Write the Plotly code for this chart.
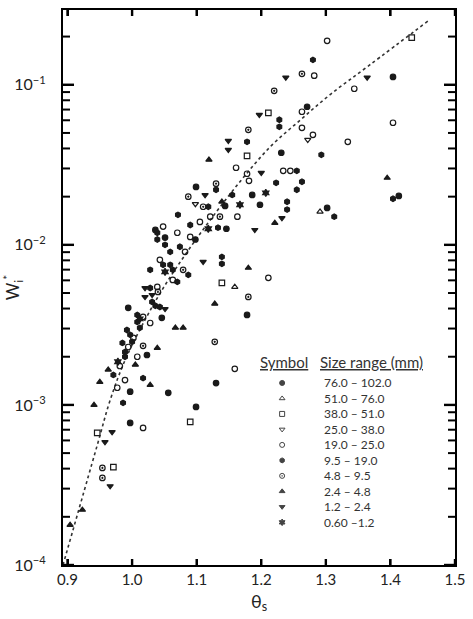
import math
import plotly.graph_objects as go

# ---- data ----
size_ranges = ["76.0 – 102.0", "51.0 – 76.0", "38.0 – 51.0", "25.0 – 38.0", "19.0 – 25.0",
               "9.5 – 19.0", "4.8 – 9.5", "2.4 – 4.8", "1.2 – 2.4", "0.60 –1.2"]
size_classes = ["A", "B", "C", "D", "E", "F", "G", "H", "I", "J"]
class_symbols = ["circle", "triangle-up-open", "square-open", "triangle-down-open", "circle-open",
                 "hexagon", "circle-open-dot", "triangle-up", "triangle-down", "hexagram"]

theta_s = [1.433, 1.302, 1.280, 1.282, 1.263, 1.238, 1.364, 1.404, 1.344, 1.220,
           1.404, 1.334, 1.280, 1.272, 1.293, 1.395, 1.413, 1.404, 1.291, 1.302,
           1.313, 1.271, 1.263, 1.263, 1.197, 1.211, 1.228, 1.228, 1.180, 1.178,
           1.149, 1.149, 1.178, 1.119, 1.161, 1.231, 1.178, 1.181, 1.200, 1.234,
           1.245, 1.255, 1.099, 1.130, 1.130, 1.186, 1.207, 1.223, 1.263, 1.255,
           1.087, 1.098, 1.110, 1.118, 1.139, 1.144, 1.198, 1.240, 1.240, 1.121,
           1.136, 1.163, 1.048, 1.090, 1.071, 1.133, 1.146, 1.118, 1.190, 1.221,
           1.232, 1.070, 1.090, 1.039, 1.039, 1.051, 1.051, 1.036, 1.074, 1.082,
           1.110, 1.139, 1.139, 1.180, 1.211, 1.139, 1.159, 1.180, 1.128, 1.178,
           1.067, 1.079, 1.128, 1.159, 1.130, 1.056, 1.028, 1.048, 1.051, 1.059,
           1.063, 1.079, 1.087, 1.063, 1.070, 1.020, 1.028, 1.039, 1.031, 1.040,
           1.020, 1.031, 1.036, 1.043, 1.051, 0.994, 1.008, 1.008, 1.012, 1.012,
           1.017, 1.028, 1.046, 0.992, 0.997, 1.002, 1.000, 0.985, 0.994, 0.989,
           0.989, 1.017, 1.039, 1.008, 1.023, 0.950, 0.963, 0.977, 0.989, 0.997,
           1.017, 1.028, 0.941, 0.986, 0.997, 1.017, 0.946, 0.969, 0.958, 0.954,
           0.971, 0.954, 0.966, 0.923, 0.904, 1.099, 1.090, 0.978, 0.971, 0.981,
           1.005, 1.043, 1.059, 1.098, 1.105, 1.113, 1.155, 1.167]

w_star = [0.197, 0.188, 0.143, 0.114, 0.117, 0.111, 0.111, 0.112, 0.0944, 0.0917,
          0.0579, 0.0440, 0.0487, 0.0453, 0.0365, 0.0262, 0.0202, 0.0194, 0.0161, 0.0170,
          0.0150, 0.0729, 0.0678, 0.0538, 0.0649, 0.0668, 0.0604, 0.0546, 0.0523, 0.0440,
          0.0447, 0.0393, 0.0360, 0.0340, 0.0303, 0.0376, 0.0278, 0.0251, 0.0282, 0.0290,
          0.0290, 0.0290, 0.0230, 0.0241, 0.0221, 0.0205, 0.0211, 0.0244, 0.0248, 0.0221,
          0.0200, 0.0180, 0.0173, 0.0173, 0.0186, 0.0175, 0.0178, 0.0186, 0.0166, 0.0150,
          0.0150, 0.0150, 0.0130, 0.0133, 0.0154, 0.0128, 0.0126, 0.0126, 0.0124, 0.0137,
          0.0147, 0.0119, 0.0112, 0.0119, 0.0108, 0.0111, 0.0100, 0.0124, 0.00972, 0.00904,
          0.00783, 0.00841, 0.00761, 0.00718, 0.00622, 0.00579, 0.00546, 0.00473, 0.00428, 0.00365,
          0.00303, 0.00303, 0.00248, 0.00168, 0.00137, 0.00119, 0.00698, 0.00750, 0.00678, 0.00750,
          0.00698, 0.00698, 0.00649, 0.00604, 0.00587, 0.00538, 0.00538, 0.00546, 0.00487, 0.00508,
          0.00473, 0.00440, 0.00416, 0.00409, 0.00398, 0.00404, 0.00365, 0.00330, 0.00345, 0.00303,
          0.00355, 0.00325, 0.00350, 0.00294, 0.00274, 0.00262, 0.00248, 0.00244, 0.00230, 0.00214,
          0.00200, 0.00234, 0.00227, 0.00200, 0.00205, 0.00139, 0.00166, 0.00128, 0.00143, 0.00121,
          0.00147, 0.00133, 0.00100, 0.00103, 0.000772, 0.000718, 0.000668, 0.000678, 0.000587, 0.000404,
          0.000409, 0.000350, 0.000311, 0.000221, 0.000178, 0.000972, 0.000783, 0.00186, 0.00154, 0.00175,
          0.00178, 0.00806, 0.00904, 0.0108, 0.0139, 0.0205, 0.0205, 0.0178]

point_class = ["C", "E", "F", "E", "G", "I", "I", "A", "E", "G",
               "E", "E", "E", "D", "F", "H", "A", "F", "B", "A",
               "F", "A", "E", "E", "I", "C", "F", "F", "G", "F",
               "I", "I", "C", "H", "E", "A", "E", "E", "I", "E",
               "E", "F", "A", "G", "F", "A", "J", "F", "F", "F",
               "G", "D", "G", "F", "H", "A", "A", "F", "F", "E",
               "G", "E", "E", "F", "F", "F", "A", "J", "I", "H",
               "I", "E", "E", "F", "F", "A", "F", "A", "F", "E",
               "I", "F", "F", "H", "E", "C", "B", "G", "H", "A",
               "H", "H", "G", "E", "A", "A", "F", "F", "J", "F",
               "F", "G", "F", "E", "F", "I", "F", "E", "I", "G",
               "I", "F", "F", "F", "I", "A", "F", "F", "J", "F",
               "E", "E", "A", "F", "F", "E", "F", "F", "E", "F",
               "F", "G", "H", "E", "A", "H", "H", "E", "E", "A",
               "F", "H", "H", "F", "A", "E", "C", "I", "I", "G",
               "C", "G", "I", "H", "H", "A", "C", "J", "F", "E",
               "H", "E", "F", "A", "E", "I", "F", "J"]

# dotted trend line
line_theta = [0.893, 0.946, 0.966, 0.989, 1.020, 1.051, 1.085, 1.121, 1.167, 1.214, 1.260, 1.307, 1.368, 1.461]
line_w = [1.0e-4, 5.6e-4, 1.07e-3, 1.9e-3, 3.4e-3, 5.6e-3, 9.0e-3, 1.43e-2, 2.48e-2, 4.1e-2, 6.0e-2, 8.7e-2, 0.133, 0.255]

y_major = [1e-4, 1e-3, 1e-2, 1e-1]
y_major_text = ["10<sup>−4</sup>", "10<sup>−3</sup>", "10<sup>−2</sup>", "10<sup>−1</sup>"]
y_minor = [m * d for d in (1e-4, 1e-3, 1e-2, 1e-1) for m in range(2, 10)]
x_ticks = [0.9, 1.0, 1.1, 1.2, 1.3, 1.4, 1.5]
x_tick_text = ["0.9", "1.0", "1.1", "1.2", "1.3", "1.4", "1.5"]

X_RANGE = [0.893, 1.5]
Y_RANGE_LOG = [-4, -0.533]

W, H = 473, 619
ML, MR, MT, MB = 63, 18, 10, 54
PW, PH = W - ML - MR, H - MT - MB

FONT = "Lato, 'Open Sans', sans-serif"
INK = "#1a1a1a"

fig = go.Figure()

fig.add_trace(go.Scatter(x=line_theta, y=line_w, mode="lines", line_shape="spline",
                         line=dict(color="#333", width=1.6, dash="dot"), hoverinfo="skip"))

for key, sym in zip(size_classes, class_symbols):
    xs = [t for t, c in zip(theta_s, point_class) if c == key]
    ys = [v for v, c in zip(w_star, point_class) if c == key]
    if not xs:
        continue
    fig.add_trace(go.Scatter(x=xs, y=ys, mode="markers",
                             marker=dict(symbol=sym, size=5.5, color=INK,
                                         line=dict(color=INK, width=1.2))))

# hand-built legend (overlay axis spanning the plot area 0..1)
leg_x = 0.559
leg_y0 = 0.328
leg_step = 0.0279
for i, (sym, lab) in enumerate(zip(class_symbols, size_ranges)):
    yy = leg_y0 - i * leg_step
    fig.add_trace(go.Scatter(x=[leg_x], y=[yy], xaxis="x2", yaxis="y2", mode="markers",
                             marker=dict(symbol=sym, size=5, color="#444",
                                         line=dict(color="#444", width=1))))
    fig.add_annotation(x=0.661, y=yy, xref="paper", yref="paper", text=lab, showarrow=False,
                       xanchor="left", yanchor="middle", font=dict(family=FONT, size=12, color="#333"))

fig.add_annotation(x=0.497, y=0.366, xref="paper", yref="paper", text="<u>Symbol</u>", showarrow=False,
                   xanchor="left", yanchor="middle", font=dict(family=FONT, size=15, color="#333"))
fig.add_annotation(x=0.651, y=0.366, xref="paper", yref="paper", text="<u>Size range (mm)</u>",
                   showarrow=False, xanchor="left", yanchor="middle",
                   font=dict(family=FONT, size=15, color="#333"))


# tick marks drawn inside on all four sides, derived from the tick arrays
def y_frac(v):
    return (math.log10(v) - Y_RANGE_LOG[0]) / (Y_RANGE_LOG[1] - Y_RANGE_LOG[0])


def add_ytick(v, length_px, width):
    f = y_frac(v)
    if not (0 <= f <= 1):
        return
    L = length_px / PW
    for x0, x1 in ((0, L), (1 - L, 1)):
        fig.add_shape(type="line", xref="paper", yref="paper", x0=x0, x1=x1, y0=f, y1=f,
                      line=dict(color="black", width=width), layer="above")


for v in y_major:
    add_ytick(v, 11, 2.4)
for v in y_minor:
    add_ytick(v, 7, 2.0)
for v in x_ticks:
    L = 6 / PH
    for y0, y1 in ((0, L), (1 - L, 1)):
        fig.add_shape(type="line", xref="x", yref="paper", x0=v, x1=v, y0=y0, y1=y1,
                      line=dict(color="black", width=2.4), layer="above")

axis_common = dict(showline=True, linewidth=2.2, linecolor="black", mirror="ticks",
                   ticks="inside", tickcolor="black", showgrid=False, zeroline=False,
                   automargin=False)

fig.update_layout(
    width=W, height=H,
    margin=dict(l=ML, r=MR, t=MT, b=MB),
    paper_bgcolor="white", plot_bgcolor="white",
    showlegend=False,
    font=dict(family=FONT, size=15, color="#222"),
    xaxis=dict(range=X_RANGE, tickmode="array", tickvals=x_ticks, ticktext=x_tick_text,
               ticklen=6, tickwidth=2.4, tickfont=dict(size=15),
               title=dict(text="θ<sub>s</sub>", font=dict(size=18), standoff=8), **axis_common),
    yaxis=dict(type="log", range=Y_RANGE_LOG, tickmode="array", tickvals=y_major, ticktext=y_major_text,
               ticklen=11, tickwidth=2.4, ticklabelstandoff=12, tickfont=dict(size=16),
               title=dict(text="W<sub>i</sub><sup>*</sup>", font=dict(size=17), standoff=2), **axis_common),
    xaxis2=dict(overlaying="x", anchor="y2", range=[0, 1], visible=False),
    yaxis2=dict(overlaying="y", anchor="x2", range=[0, 1], visible=False),
)

fig.write_html("out.html")
